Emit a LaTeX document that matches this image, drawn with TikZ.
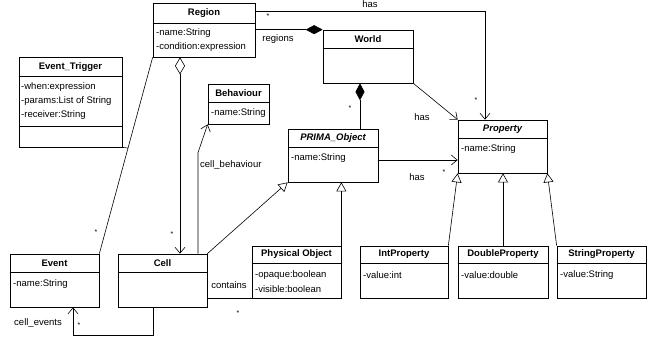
\documentclass[tikz,border=0pt]{standalone}
\usepackage{fontspec}
\setmainfont{Liberation Sans}
\usetikzlibrary{arrows.meta,fit,calc}

\begin{document}
\begin{tikzpicture}[x=1pt,y=-1pt,
  boxline/.style={line width=0.7pt},
  cls/.style={draw, line width=0.7pt, inner sep=0pt},
  title/.style={inner sep=0pt, font=\bfseries\fontsize{9.5}{11}\selectfont},
  ititle/.style={inner sep=0pt, font=\bfseries\itshape\fontsize{9.5}{11}\selectfont},
  attr/.style={anchor=west, inner sep=0pt, font=\fontsize{9.5}{11}\selectfont},
  lbl/.style={inner sep=0pt, font=\fontsize{9.5}{11}\selectfont},
  mult/.style={inner sep=0pt, font=\fontsize{7}{8}\selectfont},
  conn/.style={line width=0.6pt},
  nav/.style={conn, -{Straight Barb[length=6pt,width=10pt,line width=0.6pt]}},
  gen/.style={conn, -{Triangle[open,length=9pt,width=10pt,line width=0.6pt]}},
  comp/.style={conn, -{Diamond[length=17pt,width=9pt]}},
  aggnav/.style={conn, {Diamond[open,length=17pt,width=10pt,line width=0.6pt]}-{Straight Barb[length=6pt,width=10pt,line width=0.6pt]}}
]
\useasboundingbox (0,0) rectangle (654,341);

% ---- classes ----
% Region
\node[cls, fit={(153,3) (255,57)}] (region) {};
\draw[boxline] (region.west |- 0,23) -- (region.east |- 0,23);
\node[title] at (204,13) {Region};
\node[attr] at (156,33) {-name:String};
\node[attr] at (156,47) {-condition:expression};

% Event_Trigger
\node[cls, fit={(19,57) (122,147)}] (trigger) {};
\draw[boxline] (trigger.west |- 0,76) -- (trigger.east |- 0,76);
\draw[boxline] (trigger.west |- 0,126) -- (trigger.east |- 0,126);
\node[title] at (70.5,67) {Event\_Trigger};
\node[attr] at (21,87) {-when:expression};
\node[attr] at (21,101) {-params:List of String};
\node[attr] at (21,115) {-receiver:String};

% Behaviour
\node[cls, fit={(208,84) (269,124)}] (behaviour) {};
\draw[boxline] (behaviour.west |- 0,102) -- (behaviour.east |- 0,102);
\node[title] at (238.5,93) {Behaviour};
\node[attr] at (211,113) {-name:String};

% World
\node[cls, fit={(323,30) (413,83)}] (world) {};
\draw[boxline] (world.west |- 0,48) -- (world.east |- 0,48);
\node[title] at (368,39) {World};

% PRIMA_Object
\node[cls, fit={(288,129) (378,182)}] (prima) {};
\draw[boxline] (prima.west |- 0,147) -- (prima.east |- 0,147);
\node[ititle] at (333,138) {PRIMA\_Object};
\node[attr] at (291,158) {-name:String};

% Property
\node[cls, fit={(458,120) (547,173)}] (property) {};
\draw[boxline] (property.west |- 0,138) -- (property.east |- 0,138);
\node[ititle] at (502.5,129) {Property};
\node[attr] at (461,149) {-name:String};

% Event
\node[cls, fit={(10,254) (99,307)}] (event) {};
\draw[boxline] (event.west |- 0,272) -- (event.east |- 0,272);
\node[title] at (54.5,263) {Event};
\node[attr] at (13,284) {-name:String};

% Cell
\node[cls, fit={(118,254) (207,307)}] (cell) {};
\draw[boxline] (cell.west |- 0,272) -- (cell.east |- 0,272);
\node[title] at (162.5,263) {Cell};

% Physical Object
\node[cls, fit={(252,246) (341,298)}] (physical) {};
\draw[boxline] (physical.west |- 0,263) -- (physical.east |- 0,263);
\node[title] at (296.5,254) {Physical Object};
\node[attr] at (255,275) {-opaque:boolean};
\node[attr] at (255,289) {-visible:boolean};

% IntProperty
\node[cls, fit={(360,246) (448,298)}] (intp) {};
\draw[boxline] (intp.west |- 0,263) -- (intp.east |- 0,263);
\node[title] at (404,254) {IntProperty};
\node[attr] at (363,275) {-value:int};

% DoubleProperty
\node[cls, fit={(458,246) (548,298)}] (doublep) {};
\draw[boxline] (doublep.west |- 0,263) -- (doublep.east |- 0,263);
\node[title] at (503,254) {DoubleProperty};
\node[attr] at (461,275) {-value:double};

% StringProperty
\node[cls, fit={(557,246) (646,298)}] (stringp) {};
\draw[boxline] (stringp.west |- 0,263) -- (stringp.east |- 0,263);
\node[title] at (601.5,254) {StringProperty};
\node[attr] at (560,275) {-value:String};

% ---- associations ----
% Region has Property
\draw[nav] ([yshift=-9pt]region.north east) -| ([xshift=-17.5pt]property.north);
\node[lbl, anchor=base] at (370,7) {has};
\node[mult] at (268,16) {*};
\node[mult] at (476,100) {*};

% World contains Regions
\draw[comp] ([yshift=-27pt]region.north east) -- (world.north west);
\node[lbl] at (278,39) {regions};

% Region aggregates Cells
\draw[aggnav] ([xshift=-24pt]region.south) -- ([xshift=17.5pt]cell.north);
\node[mult] at (172,234) {*};

% Region -- Event, with the Event_Trigger link
\draw[conn] (region.south west) -- (event.north east);
\coordinate (trigLink) at ($(region.south west)!0.462!(event.north east)$);
\draw[conn] (trigger.south east) -- (trigLink);
\node[mult] at (96,232) {*};

% Cell behaviour
\draw[nav] ([xshift=35.5pt]cell.north) -- ++(0,-101) -- (behaviour.south west);
\node[lbl, anchor=west] at (200,165) {cell\_behaviour};

% Cell events
\draw[nav] ([xshift=-9.5pt]cell.south) -- ++(0,28) -| ([xshift=18.5pt]event.south);
\node[lbl] at (38,323) {cell\_events};
\node[mult] at (79,325) {*};

% Cell contains Physical Object
\draw[conn] ([yshift=9pt]cell.south east) -- (physical.south west);
\node[lbl] at (229,285) {contains};
\node[mult] at (238,313) {*};

% World composed of PRIMA_Objects
\draw[comp] ([xshift=27pt]prima.north) -- ([xshift=27pt]prima.north |- world.south);
\node[mult] at (350,108) {*};

% World has Property
\draw[nav] (world.south east) -- (property.north west);
\node[lbl] at (422,117) {has};

% PRIMA_Object has Property
\draw[nav] ([yshift=-4.5pt]prima.east) -- ([yshift=-4.5pt]prima.east -| property.west);
\node[lbl] at (417,177) {has};
\node[mult] at (444,172) {*};

% ---- generalizations ----
\draw[gen] (cell.north east) -- (prima.south west);
\draw[gen] (physical.north east) -- (physical.north east |- prima.south);
\draw[gen] (intp.north east) -- (property.south west);
\draw[gen] (doublep.north) -- (doublep.north |- property.south);
\draw[gen] (stringp.north west) -- (property.south east);
\end{tikzpicture}
\end{document}
